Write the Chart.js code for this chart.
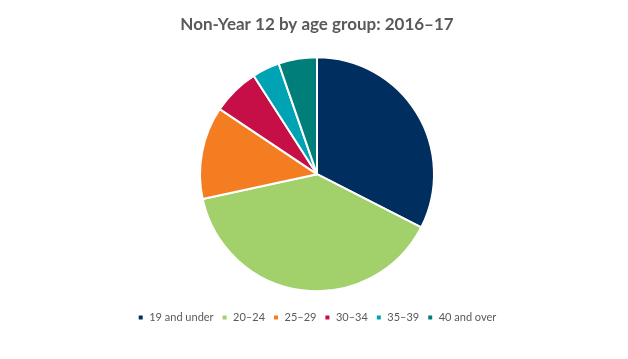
<!DOCTYPE html>
<html>
<head>
<meta charset="utf-8">
<script src="https://cdn.jsdelivr.net/npm/chart.js@4/dist/chart.umd.min.js"></script>
<style>
  html, body { margin: 0; padding: 0; background: #fff; }
  #wrap { width: 628px; height: 359px; }
</style>
</head>
<body>
<div id="wrap"><canvas id="ageChart"></canvas></div>
<script>
// age groups and their share of Non-Year 12 (%)
const ageGroups = ['19 and under', '20\u201324', '25\u201329', '30\u201334', '35\u201339', '40 and over'];
const shares = [32.5, 39.1, 12.8, 6.5, 3.8, 5.3];
const sliceColours = ['#002E5E', '#A2D06B', '#F47D22', '#C60F47', '#00A3B4', '#007F7A'];

const ageConfig = {
    type: 'pie',
    data: {
      labels: ageGroups,
      datasets: [
        {
          data: shares,
          backgroundColor: sliceColours,
          borderColor: '#ffffff',
          borderWidth: 2
        }
      ]
    },
    options: {
      responsive: true,
      maintainAspectRatio: false,
      animation: false,
      radius: 117,
      layout: {
        padding: { left: 6, right: 0, top: 0, bottom: 26 }
      },
      plugins: {
        title: {
          display: true,
          text: 'Non-Year 12 by age group: 2016\u201317',
          color: '#595959',
          font: { family: 'Lato', size: 17, weight: 'bold' },
          padding: { top: 14, bottom: 10 }
        },
        legend: {
          position: 'bottom',
          labels: {
            color: '#595959',
            font: { family: 'Lato', size: 11 },
            boxWidth: 6,
            boxHeight: 6,
            padding: 8
          }
        },
        tooltip: { enabled: false }
      }
    }
};

const ageChart = new Chart(
    document.getElementById('ageChart'),
    ageConfig
);
</script>
</body>
</html>
